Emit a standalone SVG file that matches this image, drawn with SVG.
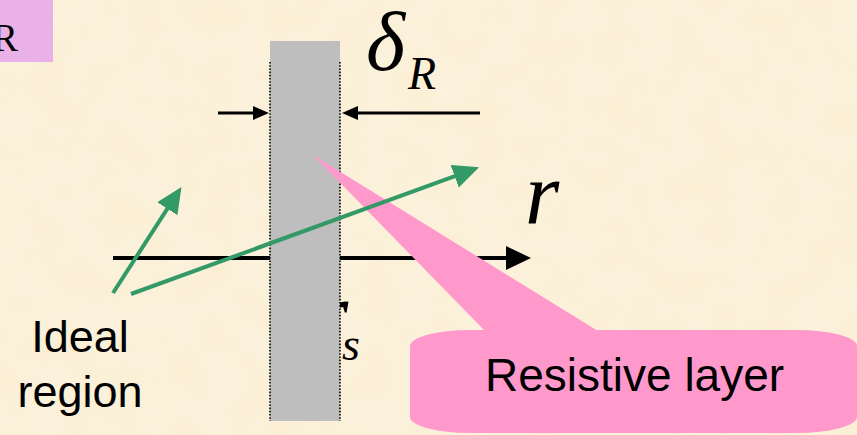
<svg xmlns="http://www.w3.org/2000/svg" width="857" height="435" viewBox="0 0 857 435">
  <style>
    .serif { font-family: "Liberation Serif", "Times New Roman", serif; font-style: italic; fill: #000; }
    .sans { font-family: "Liberation Sans", Arial, sans-serif; fill: #000; }
    .green { stroke: #339966; stroke-width: 4; fill: none; }
    .black { stroke: #000; fill: none; }
    .dots { stroke: #000; stroke-width: 1.6; stroke-dasharray: 1.6 1.6; fill: none; }
  </style>
  <defs>
    <filter id="paper" x="0" y="0" width="100%" height="100%">
      <feTurbulence type="fractalNoise" baseFrequency="0.03" numOctaves="3" seed="4" result="n"/>
      <feColorMatrix in="n" type="matrix" values="0 0 0 0 1  0 0 0 0 0.98  0 0 0 0 0.93  0 0 0 0.35 -0.1"/>
    </filter>
    <marker id="ah-green" markerUnits="userSpaceOnUse" markerWidth="27" markerHeight="24" refX="1" refY="12" orient="auto">
      <path d="M0,0 L26,12 L0,24 z" fill="#339966"/>
    </marker>
    <marker id="ah-axis" markerUnits="userSpaceOnUse" markerWidth="26" markerHeight="24" refX="1" refY="12" orient="auto">
      <path d="M0,0 L25,12 L0,24 z" fill="#000"/>
    </marker>
    <marker id="ah-dim" markerUnits="userSpaceOnUse" markerWidth="17" markerHeight="14" refX="1" refY="7" orient="auto">
      <path d="M0,0 L16,7 L0,14 z" fill="#000"/>
    </marker>
  </defs>

  <!-- background -->
  <rect x="0" y="0" width="857" height="435" fill="#FBEFD6"/>
  <rect x="0" y="0" width="857" height="435" filter="url(#paper)"/>

  <!-- corner label box -->
  <g id="corner-box">
    <rect x="0" y="0" width="53" height="62" fill="#EAB0E8"/>
    <text class="serif" style="font-style:normal" x="18" y="51" font-size="39" text-anchor="end">R</text>
  </g>

  <!-- axis line (behind layer) -->
  <g id="connectors-axis">
    <line class="black" stroke-width="4" x1="113" y1="258" x2="507" y2="258" marker-end="url(#ah-axis)"/>
  </g>

  <!-- r_s label (r partly hidden behind the layer) -->
  <g id="label-rs">
    <text class="serif" x="314" y="343" font-size="88">r</text>
    <text class="serif" x="342" y="360" font-size="46">s</text>
  </g>

  <!-- resistive layer slab -->
  <g id="layer">
    <rect x="270" y="41" width="70" height="380" fill="#BEBEBE"/>
    <line class="dots" x1="270" y1="62" x2="270" y2="421"/>
    <line class="dots" x1="340" y1="62" x2="340" y2="421"/>
  </g>

  <!-- thickness dimension -->
  <g id="dimension">
    <line class="black" stroke-width="3" x1="218" y1="113" x2="254" y2="113" marker-end="url(#ah-dim)"/>
    <line class="black" stroke-width="3" x1="480" y1="113" x2="357" y2="113" marker-end="url(#ah-dim)"/>
    <text class="serif" x="366" y="70" font-size="84">δ</text>
    <text class="serif" x="408" y="89" font-size="46">R</text>
  </g>

  <!-- callout -->
  <g id="callout">
    <polygon points="313,155 485,331 598,331" fill="#FF99CC"/>
    <rect x="410" y="330" width="447" height="103" rx="60" ry="16" fill="#FF99CC"/>
    <text class="sans" x="485" y="391" font-size="46">Resistive layer</text>
  </g>

  <!-- green pointer arrows -->
  <g id="connectors">
    <line class="green" x1="113" y1="293" x2="167.9" y2="207.9" marker-end="url(#ah-green)"/>
    <line class="green" x1="131" y1="294" x2="455.6" y2="175.9" marker-end="url(#ah-green)"/>
  </g>

  <!-- r axis label -->
  <g id="label-r">
    <text class="serif" x="525" y="223" font-size="88">r</text>
  </g>

  <!-- ideal region label -->
  <g id="ideal-region">
    <text class="sans" x="80" y="352" font-size="45" text-anchor="middle">Ideal</text>
    <text class="sans" x="80" y="407" font-size="45" text-anchor="middle">region</text>
  </g>
</svg>
